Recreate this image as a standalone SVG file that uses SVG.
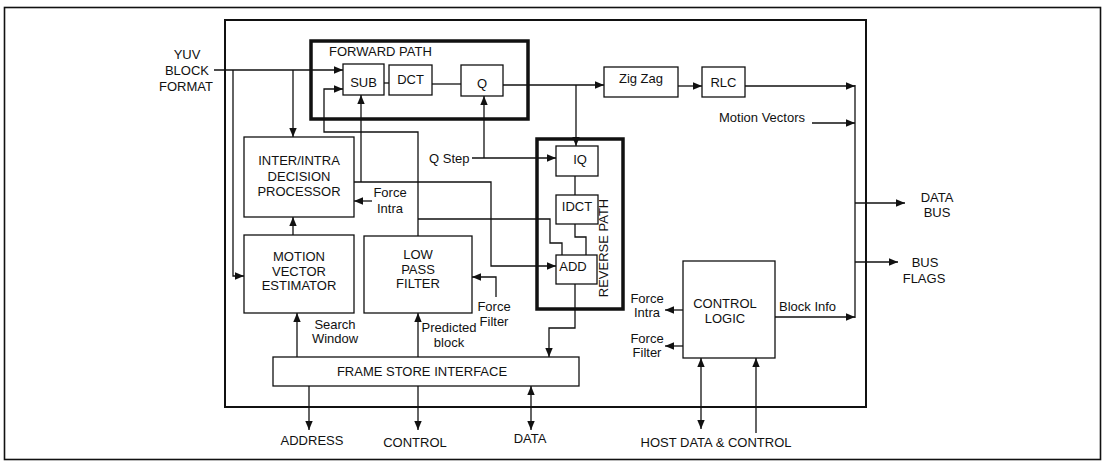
<svg xmlns="http://www.w3.org/2000/svg" width="1104" height="462" viewBox="0 0 1104 462">
<style>
text{font-family:"Liberation Sans",Arial,sans-serif;font-size:13px;fill:#111}
.m{text-anchor:middle}
.box{fill:#fff;stroke:#111;stroke-width:1.3}
.thick{fill:none;stroke:#111;stroke-width:3.5}
.c{fill:none;stroke:#111;stroke-width:1.3}
.a{marker-end:url(#ah)}
.d{marker-start:url(#ah);marker-end:url(#ah)}
</style>
<defs>
<marker id="ah" markerUnits="userSpaceOnUse" markerWidth="10" markerHeight="8" refX="9" refY="4" orient="auto-start-reverse">
<path d="M0,0.3 L9,4 L0,7.7 z" fill="#111"/>
</marker>
</defs>
<rect width="1104" height="462" fill="#fff"/>
<rect x="4.5" y="7.5" width="1096" height="452" fill="none" stroke="#111" stroke-width="1.6"/>
<rect x="225" y="20" width="641" height="387" fill="none" stroke="#111" stroke-width="2"/>

<g id="connectors">
<path class="c a" d="M214,70 H343"/>
<path class="c a" d="M233,70 V276 H244"/>
<path class="c a" d="M293,70 V137"/>
<path class="c a" d="M418,236 V132 H324 V89 H343"/>
<path class="c a" d="M354,182 H491 V266 H556"/>
<path class="c a" d="M361,182 V95"/>
<path class="c" d="M418,219 H550 V243 H562 V255"/>
<path class="c" d="M575,224 V237 H586 V255"/>
<path class="c" d="M384,83 H389"/>
<path class="c" d="M432,84 H461"/>
<path class="c a" d="M503,85 H604"/>
<path class="c a" d="M576,85 V146"/>
<path class="c a" d="M472,158 H556"/>
<path class="c a" d="M484,158 V96"/>
<path class="c" d="M575,176 V195"/>
<path class="c a" d="M575,284 V328 H549 V357"/>
<path class="c a" d="M678,86 H702"/>
<path class="c a" d="M745,86 H855"/>
<path class="c" d="M855,85 V318" stroke-width="2.2"/>
<path class="c a" d="M812,123 H855"/>
<path class="c a" d="M855,203 H905" stroke-width="1.8"/>
<path class="c a" d="M855,262 H898" stroke-width="1.8"/>
<path class="c a" d="M775,317 H855"/>
<path class="c a" d="M683,310 H665"/>
<path class="c a" d="M683,346 H665"/>
<path class="c d" d="M701,358 V429"/>
<path class="c a" d="M756,433 V358"/>
<path class="c a" d="M372,201 H354"/>
<path class="c a" d="M496,297 V277 H472"/>
<path class="c a" d="M293,235 V217"/>
<path class="c a" d="M297,357 V313"/>
<path class="c a" d="M418,357 V313"/>
<path class="c a" d="M309,386 V430"/>
<path class="c a" d="M418,386 V430"/>
<path class="c d" d="M531,386 V430"/>
</g>

<g id="forward-path">
<rect class="thick" x="311" y="41" width="217" height="78"/>
<text x="329" y="56">FORWARD PATH</text>
</g>
<g id="reverse-path">
<rect class="thick" x="537" y="139" width="86" height="170"/>
<text class="m" transform="translate(608,248) rotate(-90)">REVERSE PATH</text>
</g>
<g id="sub"><rect class="box" x="343" y="64" width="41" height="31"/><text class="m" x="363.5" y="87">SUB</text></g>
<g id="dct"><rect class="box" x="389" y="65" width="43" height="30"/><text class="m" x="410.5" y="84">DCT</text></g>
<g id="q"><rect class="box" x="461" y="65" width="42" height="31"/><text class="m" x="482" y="88">Q</text></g>
<g id="zigzag"><rect class="box" x="604" y="67" width="74" height="30"/><text class="m" x="641" y="83">Zig Zag</text></g>
<g id="rlc"><rect class="box" x="702" y="67" width="43" height="30"/><text class="m" x="723.5" y="87">RLC</text></g>
<g id="iq"><rect class="box" x="556" y="146" width="42" height="30"/><text class="m" x="580" y="164">IQ</text></g>
<g id="idct"><rect class="box" x="556" y="195" width="42" height="29"/><text class="m" x="577" y="211">IDCT</text></g>
<g id="add"><rect class="box" x="556" y="255" width="41" height="29"/><text class="m" x="573" y="271">ADD</text></g>
<g id="inter-intra"><rect class="box" x="244" y="137" width="110" height="80"/>
<text class="m" x="299" y="165">INTER/INTRA</text><text class="m" x="299" y="180.5">DECISION</text><text class="m" x="299" y="196">PROCESSOR</text></g>
<g id="mve"><rect class="box" x="244" y="235" width="110" height="78"/>
<text class="m" x="299" y="261">MOTION</text><text class="m" x="299" y="275.5">VECTOR</text><text class="m" x="299" y="290">ESTIMATOR</text></g>
<g id="lpf"><rect class="box" x="364" y="236" width="108" height="77"/>
<text class="m" x="418" y="259">LOW</text><text class="m" x="418" y="273.5">PASS</text><text class="m" x="418" y="288">FILTER</text></g>
<g id="fsi"><rect class="box" x="273" y="357" width="306" height="29"/><text class="m" x="422" y="376">FRAME STORE INTERFACE</text></g>
<g id="control-logic"><rect class="box" x="683" y="261" width="92" height="97"/>
<text class="m" x="725" y="308">CONTROL</text><text class="m" x="725" y="323">LOGIC</text></g>

<g id="labels">
<text class="m" x="187" y="59">YUV</text><text class="m" x="187" y="75">BLOCK</text><text class="m" x="186" y="91">FORMAT</text>
<text x="429" y="163">Q Step</text>
<text x="719" y="122">Motion Vectors</text>
<text class="m" x="390" y="197">Force</text><text class="m" x="390" y="213">Intra</text>
<text class="m" x="494" y="311">Force</text><text class="m" x="494" y="326">Filter</text>
<text class="m" x="335" y="329">Search</text><text class="m" x="335" y="343">Window</text>
<text class="m" x="449" y="332">Predicted</text><text class="m" x="449" y="347">block</text>
<text class="m" x="647" y="303">Force</text><text class="m" x="647" y="317">Intra</text>
<text class="m" x="647" y="343">Force</text><text class="m" x="647" y="357">Filter</text>
<text x="779" y="311">Block Info</text>
<text class="m" x="937" y="202">DATA</text><text class="m" x="937" y="217">BUS</text>
<text class="m" x="925" y="267">BUS</text><text class="m" x="924" y="283">FLAGS</text>
<text class="m" x="312" y="445">ADDRESS</text>
<text class="m" x="415" y="447">CONTROL</text>
<text class="m" x="530" y="443">DATA</text>
<text class="m" x="716" y="447">HOST DATA &amp; CONTROL</text>
</g>
</svg>
